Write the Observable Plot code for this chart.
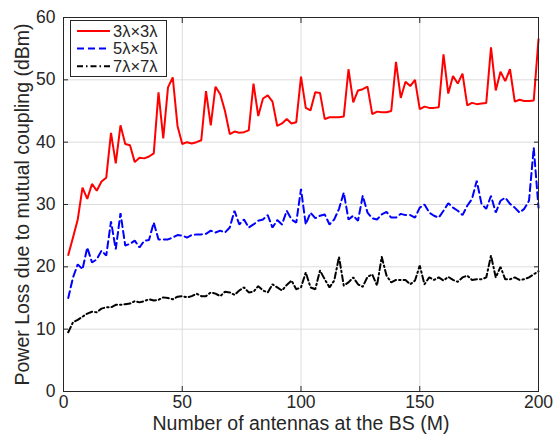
<!DOCTYPE html>
<html><head><meta charset="utf-8">
<script src="https://cdn.jsdelivr.net/npm/d3@7"></script>
<script src="https://cdn.jsdelivr.net/npm/@observablehq/plot@0.6"></script>
<style>body{margin:0;background:#fff;} svg{display:block;}</style>
</head><body><div id="chart"></div>
<script>
const M = [2,4,6,8,10,12,14,16,18,20,22,24,26,28,30,32,34,36,38,40,42,44,46,48,50,52,54,56,58,60,62,64,66,68,70,72,74,76,78,80,82,84,86,88,90,92,94,96,98,100,102,104,106,108,110,112,114,116,118,120,122,124,126,128,130,132,134,136,138,140,142,144,146,148,150,152,154,156,158,160,162,164,166,168,170,172,174,176,178,180,182,184,186,188,190,192,194,196,198,200];
const loss3 = [21.9,24.7,27.6,32.7,30.9,33.3,32.2,33.7,34.3,41.5,36.6,42.7,39.7,39.5,36.8,37.5,37.4,37.7,38.2,48.0,40.6,48.8,50.4,42.6,39.7,40.0,39.8,40.0,40.3,48.2,42.7,48.9,47.7,45.0,41.3,41.7,41.5,41.6,41.9,49.4,44.2,47.0,47.5,46.5,42.6,43.0,43.7,43.0,43.2,50.5,45.5,45.1,48.0,47.9,43.7,44.0,44.0,44.0,44.1,51.7,46.4,48.3,48.5,48.9,44.5,44.9,44.8,44.8,45.0,52.9,47.1,49.7,49.0,50.0,45.3,45.7,45.5,45.5,45.6,54.1,47.8,50.6,49.4,51.0,45.9,46.3,46.1,46.2,46.3,55.2,48.3,51.3,49.8,51.7,46.5,46.8,46.6,46.6,46.7,56.5];
const loss5 = [15.0,18.3,20.4,19.6,23.1,20.7,21.2,22.6,21.8,27.3,22.8,28.6,23.4,23.7,24.2,23.1,24.2,24.3,27.1,24.4,24.4,24.4,24.7,25.1,25.0,24.7,25.1,25.2,25.2,25.3,25.8,25.5,25.8,25.5,26.3,29.0,26.8,27.6,26.3,26.8,27.4,27.6,28.3,26.3,27.5,26.8,29.0,27.6,27.1,32.5,26.8,28.7,27.8,28.2,28.4,26.8,27.6,29.3,31.9,27.6,28.2,27.4,31.4,28.7,27.8,27.6,28.4,28.8,27.9,27.9,28.5,28.3,28.3,27.9,29.5,30.0,28.7,28.2,27.9,29.0,30.2,29.5,29.0,28.3,29.8,30.9,33.8,30.1,29.3,31.4,28.7,30.6,31.1,30.1,29.5,28.7,29.3,30.6,39.1,29.5];
const loss7 = [9.5,11.1,11.5,12.0,12.5,12.8,12.7,13.3,13.5,13.5,13.9,13.9,14.0,14.1,14.5,14.3,14.5,14.8,14.6,14.7,15.1,15.0,14.8,15.2,15.3,15.1,15.3,15.7,15.3,15.3,15.9,15.7,15.3,16.0,15.9,15.5,16.2,16.7,15.9,16.0,16.9,16.2,15.9,17.2,16.7,16.2,17.1,17.8,16.4,16.7,19.1,16.7,16.4,19.4,18.0,16.7,17.8,21.6,17.0,17.5,18.3,17.2,16.8,18.4,18.8,17.0,21.6,18.6,17.5,17.9,17.9,17.9,17.2,17.8,20.2,17.2,18.3,17.9,18.3,17.8,18.4,17.9,17.6,18.3,18.6,17.9,18.0,18.0,18.3,21.8,18.3,20.0,18.0,18.0,18.3,17.9,18.0,18.3,18.8,19.3];
const seriesNames = ["3λ×3λ", "5λ×5λ", "7λ×7λ"];
const xTicks = [0, 50, 100, 150, 200];
const yTicks = [0, 10, 20, 30, 40, 50, 60];
const xLabel = "Number of antennas at the BS (M)";
const yLabel = "Power Loss due to mutual coupling (dBm)";

const seriesColors = ["#ff0000", "#0000ff", "#000000"];
const seriesDash = [null, "7,4", "6,3,1.5,3"];
const seriesValues = [loss3, loss5, loss7];

const lineMarks = seriesValues.map((vals, s) =>
  Plot.line(M.map((m, i) => ({M: m, v: vals[i]})), {
    x: "M", y: "v", stroke: seriesColors[s], strokeWidth: 2,
    strokeDasharray: seriesDash[s] ?? undefined, strokeLinejoin: "miter"
  })
);

const axisColor = "#262626";
const chart = Plot.plot({
  width: 554, height: 438,
  marginLeft: 63, marginRight: 16, marginTop: 17, marginBottom: 47,
  style: {fontFamily: "'Liberation Sans', Arial, sans-serif", fontSize: "17.5px", color: axisColor, background: "#fff"},
  x: {domain: [0, 200]},
  y: {domain: [0, 60]},
  marks: [
    Plot.gridX(xTicks, {stroke: "#dcdcdc", strokeOpacity: 1}),
    Plot.gridY(yTicks, {stroke: "#dcdcdc", strokeOpacity: 1}),
    ...lineMarks,
    Plot.frame({stroke: axisColor, strokeWidth: 1}),
    Plot.axisX(xTicks, {anchor: "bottom", tickSize: -5, fill: "none", label: null, stroke: axisColor}),
    Plot.axisX(xTicks, {anchor: "top", tickSize: -5, fill: "none", label: null, stroke: axisColor}),
    Plot.axisY(yTicks, {anchor: "left", tickSize: -5, fill: "none", label: null, stroke: axisColor}),
    Plot.axisY(yTicks, {anchor: "right", tickSize: -5, fill: "none", label: null, stroke: axisColor}),
    Plot.axisX(xTicks, {anchor: "bottom", tickSize: 0, tickPadding: 4, label: null, fill: axisColor}),
    Plot.axisY(yTicks, {anchor: "left", tickSize: 0, tickPadding: 8, label: null, fill: axisColor}),
    Plot.text([xLabel], {frameAnchor: "bottom", dy: 32, lineAnchor: "middle", textAnchor: "middle", fontSize: 19.5, text: d => d, fill: axisColor}),
    Plot.text([yLabel], {frameAnchor: "left", dx: -41, rotate: -90, lineAnchor: "middle", textAnchor: "middle", fontSize: 19.5, text: d => d, fill: axisColor})
  ]
});

// Legend box (top-left inside the frame)
const svg = d3.select(chart);
const lg = svg.append("g").attr("font-family", "'Liberation Sans', Arial, sans-serif").attr("font-size", 16.5).attr("text-anchor", "start");
lg.append("rect").attr("x", 70.5).attr("y", 20.5).attr("width", 96).attr("height", 56)
  .attr("fill", "#fff").attr("stroke", axisColor).attr("stroke-width", 1);
seriesNames.forEach((name, s) => {
  const cy = 31 + s * 17.6;
  lg.append("line").attr("x1", 77).attr("x2", 110).attr("y1", cy).attr("y2", cy)
    .attr("stroke", seriesColors[s]).attr("stroke-width", 2)
    .attr("stroke-dasharray", seriesDash[s]);
  lg.append("text").attr("x", 113).attr("y", cy).attr("dy", "0.35em").attr("text-anchor", "start").attr("fill", axisColor).text(name);
});

document.getElementById("chart").appendChild(chart);
</script>
</body></html>
